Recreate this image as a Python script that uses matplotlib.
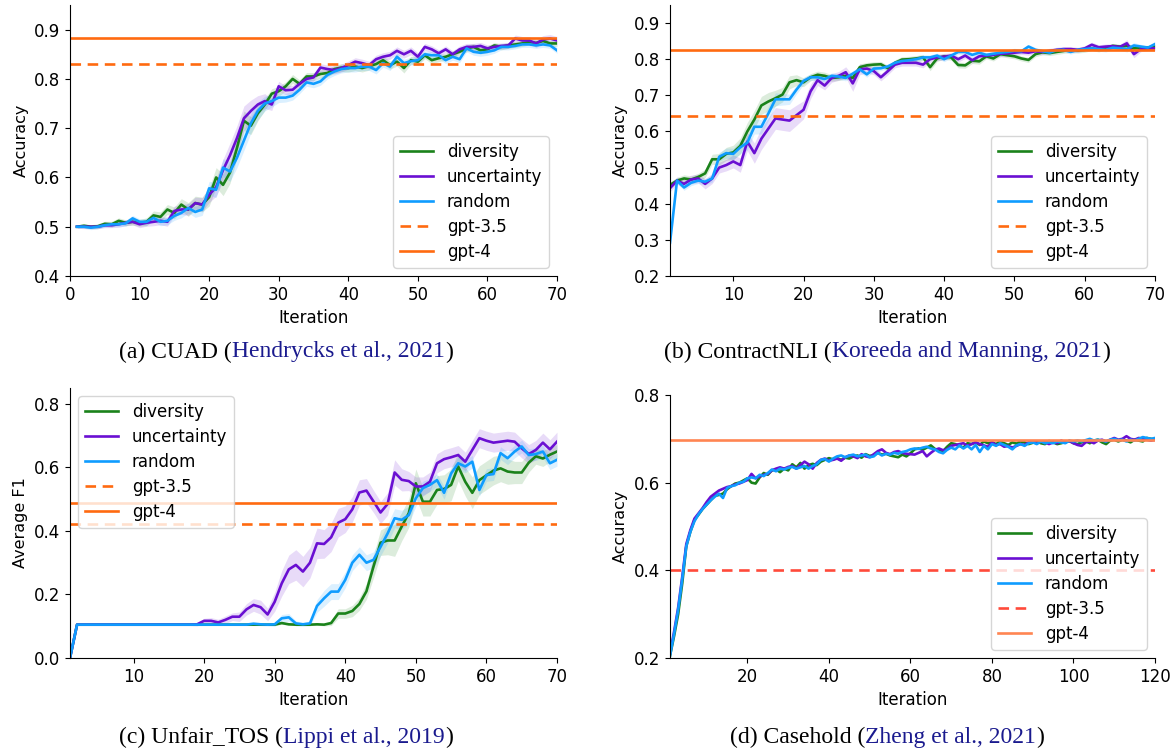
import numpy as np
import matplotlib
matplotlib.use("Agg")
import matplotlib.pyplot as plt

# colours
col_div = "#1a821a"
col_unc = "#6a0fd2"
col_rnd = "#0f9cff"
col_gpt = "#ff6a10"
col_gpt35_d = "#ff4a3a"
col_gpt4_d = "#ff8552"
col_cite = "#1a1a8e"

iters70 = np.arange(1, 71)
iters120 = np.arange(1, 121)

# (a) CUAD
a_div = [0.500, 0.502, 0.500, 0.501, 0.506, 0.505, 0.512, 0.508, 0.510, 0.508,
         0.510, 0.523, 0.520, 0.535, 0.528, 0.545, 0.535, 0.548, 0.545, 0.560,
         0.600, 0.585, 0.610, 0.660, 0.715, 0.705, 0.730, 0.748, 0.770, 0.775,
         0.785, 0.800, 0.790, 0.805, 0.805, 0.810, 0.812, 0.820, 0.823, 0.822,
         0.825, 0.822, 0.826, 0.830, 0.838, 0.828, 0.835, 0.822, 0.838, 0.835,
         0.848, 0.838, 0.842, 0.845, 0.850, 0.855, 0.862, 0.865, 0.858, 0.860,
         0.868, 0.865, 0.868, 0.870, 0.872, 0.875, 0.873, 0.877, 0.872, 0.872]
a_unc = [0.500, 0.500, 0.500, 0.500, 0.503, 0.503, 0.505, 0.508, 0.510, 0.505,
         0.508, 0.510, 0.512, 0.510, 0.532, 0.535, 0.535, 0.548, 0.545, 0.565,
         0.580, 0.615, 0.645, 0.680, 0.720, 0.735, 0.748, 0.755, 0.748, 0.785,
         0.777, 0.778, 0.790, 0.800, 0.803, 0.823, 0.820, 0.818, 0.822, 0.828,
         0.835, 0.832, 0.828, 0.840, 0.845, 0.848, 0.857, 0.850, 0.857, 0.845,
         0.865, 0.860, 0.852, 0.860, 0.850, 0.860, 0.865, 0.865, 0.867, 0.862,
         0.865, 0.867, 0.868, 0.882, 0.878, 0.878, 0.872, 0.880, 0.882, 0.878]
a_rnd = [0.500, 0.500, 0.498, 0.500, 0.503, 0.505, 0.505, 0.507, 0.517, 0.510,
         0.510, 0.518, 0.510, 0.512, 0.522, 0.528, 0.538, 0.530, 0.535, 0.578,
         0.575, 0.620, 0.612, 0.640, 0.675, 0.710, 0.735, 0.750, 0.755, 0.762,
         0.762, 0.766, 0.778, 0.793, 0.790, 0.795, 0.808, 0.815, 0.820, 0.822,
         0.822, 0.825, 0.825, 0.818, 0.832, 0.825, 0.845, 0.832, 0.836, 0.838,
         0.850, 0.848, 0.848, 0.838, 0.845, 0.840, 0.862, 0.855, 0.853, 0.855,
         0.858, 0.865, 0.865, 0.867, 0.870, 0.870, 0.868, 0.870, 0.868, 0.858]
a_div_sd = [0.003, 0.004, 0.004, 0.005, 0.005, 0.006, 0.006, 0.006, 0.007, 0.007,
            0.008, 0.009, 0.010, 0.010, 0.012, 0.012, 0.014, 0.014, 0.015, 0.018,
            0.020, 0.022, 0.022, 0.020, 0.020, 0.018, 0.015, 0.012, 0.010, 0.010,
            0.009, 0.009, 0.008, 0.008, 0.008, 0.008, 0.008, 0.008, 0.008, 0.008,
            0.008, 0.008, 0.008, 0.008, 0.008, 0.008, 0.009, 0.010, 0.008, 0.008,
            0.007, 0.007, 0.007, 0.007, 0.007, 0.007, 0.007, 0.007, 0.007, 0.007,
            0.006, 0.006, 0.006, 0.006, 0.006, 0.006, 0.006, 0.006, 0.006, 0.006]
a_unc_sd = [0.003, 0.004, 0.004, 0.004, 0.005, 0.005, 0.006, 0.006, 0.006, 0.007,
            0.007, 0.008, 0.008, 0.009, 0.010, 0.010, 0.012, 0.012, 0.014, 0.016,
            0.018, 0.022, 0.025, 0.025, 0.025, 0.022, 0.018, 0.015, 0.012, 0.010,
            0.009, 0.009, 0.008, 0.008, 0.008, 0.008, 0.008, 0.008, 0.008, 0.008,
            0.008, 0.008, 0.008, 0.008, 0.008, 0.008, 0.008, 0.008, 0.008, 0.008,
            0.007, 0.007, 0.007, 0.007, 0.007, 0.007, 0.007, 0.007, 0.007, 0.007,
            0.006, 0.006, 0.006, 0.007, 0.008, 0.008, 0.008, 0.008, 0.008, 0.008]
a_rnd_sd = [0.003, 0.003, 0.004, 0.004, 0.004, 0.005, 0.005, 0.006, 0.006, 0.006,
            0.007, 0.007, 0.008, 0.008, 0.009, 0.010, 0.010, 0.011, 0.012, 0.014,
            0.016, 0.018, 0.020, 0.020, 0.020, 0.020, 0.018, 0.015, 0.012, 0.010,
            0.009, 0.009, 0.008, 0.008, 0.008, 0.008, 0.008, 0.008, 0.008, 0.008,
            0.008, 0.008, 0.008, 0.008, 0.008, 0.008, 0.008, 0.008, 0.008, 0.008,
            0.007, 0.007, 0.007, 0.007, 0.007, 0.007, 0.007, 0.007, 0.007, 0.007,
            0.006, 0.006, 0.006, 0.006, 0.006, 0.006, 0.006, 0.006, 0.006, 0.006]
a_gpt35 = 0.830
a_gpt4 = 0.884

# (b) ContractNLI
b_div = [0.452, 0.464, 0.470, 0.467, 0.474, 0.484, 0.523, 0.523, 0.538, 0.542,
         0.560, 0.600, 0.633, 0.672, 0.683, 0.692, 0.702, 0.736, 0.742, 0.736,
         0.750, 0.757, 0.754, 0.748, 0.750, 0.754, 0.748, 0.778, 0.783, 0.785,
         0.786, 0.775, 0.790, 0.799, 0.800, 0.802, 0.805, 0.778, 0.802, 0.808,
         0.805, 0.784, 0.783, 0.796, 0.794, 0.808, 0.802, 0.814, 0.811, 0.808,
         0.802, 0.798, 0.814, 0.819, 0.817, 0.820, 0.823, 0.826, 0.824, 0.826,
         0.830, 0.826, 0.832, 0.837, 0.835, 0.837, 0.830, 0.832, 0.832, 0.835]
b_unc = [0.443, 0.464, 0.455, 0.467, 0.470, 0.455, 0.470, 0.500, 0.507, 0.517,
         0.507, 0.572, 0.540, 0.580, 0.608, 0.636, 0.633, 0.630, 0.645, 0.660,
         0.711, 0.742, 0.727, 0.748, 0.754, 0.764, 0.733, 0.772, 0.774, 0.767,
         0.750, 0.767, 0.785, 0.790, 0.790, 0.790, 0.785, 0.800, 0.805, 0.807,
         0.810, 0.800, 0.810, 0.797, 0.808, 0.810, 0.812, 0.815, 0.816, 0.818,
         0.820, 0.818, 0.822, 0.820, 0.823, 0.826, 0.828, 0.828, 0.826, 0.830,
         0.840, 0.833, 0.835, 0.836, 0.834, 0.844, 0.814, 0.828, 0.830, 0.830]
b_rnd = [0.292, 0.464, 0.445, 0.458, 0.464, 0.461, 0.470, 0.530, 0.540, 0.538,
         0.556, 0.569, 0.613, 0.613, 0.650, 0.689, 0.689, 0.689, 0.716, 0.740,
         0.750, 0.750, 0.745, 0.754, 0.752, 0.748, 0.760, 0.772, 0.758, 0.774,
         0.775, 0.780, 0.790, 0.795, 0.797, 0.800, 0.805, 0.805, 0.810, 0.800,
         0.810, 0.820, 0.820, 0.812, 0.818, 0.812, 0.815, 0.818, 0.820, 0.823,
         0.822, 0.835, 0.826, 0.822, 0.818, 0.825, 0.826, 0.820, 0.826, 0.828,
         0.830, 0.828, 0.826, 0.832, 0.830, 0.828, 0.838, 0.835, 0.832, 0.842]
b_div_sd = [0.008, 0.009, 0.010, 0.010, 0.010, 0.012, 0.014, 0.016, 0.018, 0.020,
            0.022, 0.025, 0.025, 0.025, 0.025, 0.022, 0.020, 0.018, 0.015, 0.012,
            0.010, 0.010, 0.010, 0.009, 0.009, 0.009, 0.009, 0.009, 0.008, 0.008,
            0.008, 0.008, 0.008, 0.008, 0.008, 0.008, 0.008, 0.010, 0.008, 0.008,
            0.008, 0.008, 0.008, 0.008, 0.008, 0.007, 0.007, 0.007, 0.007, 0.007,
            0.007, 0.007, 0.007, 0.007, 0.007, 0.007, 0.007, 0.007, 0.007, 0.007,
            0.006, 0.006, 0.006, 0.006, 0.006, 0.006, 0.006, 0.006, 0.006, 0.006]
b_unc_sd = [0.010, 0.010, 0.012, 0.012, 0.012, 0.014, 0.014, 0.015, 0.016, 0.018,
            0.020, 0.025, 0.028, 0.030, 0.030, 0.030, 0.030, 0.030, 0.028, 0.025,
            0.020, 0.015, 0.012, 0.012, 0.012, 0.015, 0.022, 0.015, 0.012, 0.010,
            0.010, 0.010, 0.009, 0.009, 0.009, 0.009, 0.009, 0.009, 0.009, 0.009,
            0.008, 0.008, 0.008, 0.008, 0.008, 0.008, 0.008, 0.008, 0.008, 0.008,
            0.007, 0.007, 0.007, 0.007, 0.007, 0.007, 0.007, 0.007, 0.007, 0.007,
            0.007, 0.007, 0.007, 0.007, 0.007, 0.010, 0.010, 0.007, 0.007, 0.007]
b_rnd_sd = [0.008, 0.008, 0.008, 0.008, 0.008, 0.009, 0.010, 0.012, 0.014, 0.016,
            0.018, 0.020, 0.020, 0.020, 0.020, 0.018, 0.016, 0.014, 0.012, 0.010,
            0.009, 0.009, 0.008, 0.008, 0.008, 0.008, 0.008, 0.008, 0.008, 0.008,
            0.007, 0.007, 0.007, 0.007, 0.007, 0.007, 0.007, 0.007, 0.007, 0.007,
            0.007, 0.007, 0.007, 0.007, 0.007, 0.007, 0.007, 0.007, 0.007, 0.007,
            0.006, 0.006, 0.006, 0.006, 0.006, 0.006, 0.006, 0.006, 0.006, 0.006,
            0.006, 0.006, 0.006, 0.006, 0.006, 0.008, 0.008, 0.006, 0.006, 0.006]
b_gpt35 = 0.642
b_gpt4 = 0.825

# (c) Unfair_TOS
c_div = [0.000, 0.105, 0.105, 0.105, 0.105, 0.105, 0.105, 0.105, 0.105, 0.105,
         0.105, 0.105, 0.105, 0.105, 0.105, 0.105, 0.105, 0.105, 0.105, 0.105,
         0.105, 0.105, 0.105, 0.105, 0.105, 0.105, 0.105, 0.105, 0.105, 0.105,
         0.110, 0.106, 0.105, 0.105, 0.105, 0.106, 0.105, 0.110, 0.140, 0.140,
         0.148, 0.170, 0.210, 0.288, 0.363, 0.370, 0.370, 0.414, 0.456, 0.550,
         0.492, 0.492, 0.529, 0.532, 0.545, 0.603, 0.555, 0.520, 0.560, 0.575,
         0.590, 0.597, 0.587, 0.584, 0.584, 0.615, 0.635, 0.628, 0.640, 0.650]
c_unc = [0.000, 0.105, 0.105, 0.105, 0.105, 0.105, 0.105, 0.105, 0.105, 0.105,
         0.105, 0.105, 0.105, 0.105, 0.105, 0.105, 0.105, 0.105, 0.106, 0.117,
         0.117, 0.112, 0.120, 0.130, 0.130, 0.153, 0.167, 0.160, 0.137, 0.177,
         0.235, 0.279, 0.293, 0.272, 0.300, 0.361, 0.359, 0.380, 0.426, 0.437,
         0.468, 0.521, 0.527, 0.493, 0.458, 0.485, 0.584, 0.561, 0.557, 0.540,
         0.540, 0.555, 0.613, 0.626, 0.632, 0.639, 0.618, 0.655, 0.692, 0.684,
         0.678, 0.681, 0.684, 0.681, 0.660, 0.642, 0.655, 0.678, 0.657, 0.681]
c_rnd = [0.000, 0.105, 0.105, 0.105, 0.105, 0.105, 0.105, 0.105, 0.105, 0.105,
         0.105, 0.105, 0.105, 0.105, 0.105, 0.105, 0.105, 0.105, 0.105, 0.105,
         0.105, 0.105, 0.105, 0.105, 0.105, 0.105, 0.108, 0.106, 0.105, 0.106,
         0.125, 0.128, 0.109, 0.106, 0.109, 0.164, 0.188, 0.209, 0.209, 0.246,
         0.300, 0.325, 0.300, 0.309, 0.350, 0.392, 0.440, 0.435, 0.450, 0.503,
         0.535, 0.545, 0.560, 0.520, 0.581, 0.613, 0.603, 0.618, 0.529, 0.576,
         0.579, 0.645, 0.629, 0.650, 0.666, 0.639, 0.642, 0.650, 0.613, 0.624]
c_div_sd = [0.001, 0.003, 0.003, 0.003, 0.003, 0.003, 0.003, 0.003, 0.003, 0.003,
            0.003, 0.003, 0.003, 0.003, 0.003, 0.003, 0.003, 0.003, 0.003, 0.003,
            0.003, 0.003, 0.003, 0.003, 0.003, 0.003, 0.003, 0.003, 0.003, 0.003,
            0.004, 0.003, 0.003, 0.003, 0.003, 0.003, 0.004, 0.008, 0.015, 0.015,
            0.018, 0.020, 0.025, 0.035, 0.040, 0.045, 0.050, 0.045, 0.045, 0.045,
            0.045, 0.045, 0.045, 0.045, 0.050, 0.045, 0.045, 0.050, 0.045, 0.045,
            0.045, 0.042, 0.040, 0.035, 0.035, 0.030, 0.025, 0.025, 0.022, 0.022]
c_unc_sd = [0.001, 0.003, 0.003, 0.003, 0.003, 0.003, 0.003, 0.003, 0.003, 0.003,
            0.003, 0.003, 0.003, 0.003, 0.003, 0.003, 0.003, 0.003, 0.005, 0.008,
            0.010, 0.010, 0.012, 0.012, 0.015, 0.018, 0.020, 0.022, 0.020, 0.030,
            0.040, 0.045, 0.048, 0.048, 0.048, 0.048, 0.045, 0.045, 0.045, 0.042,
            0.040, 0.040, 0.038, 0.035, 0.035, 0.035, 0.040, 0.035, 0.030, 0.030,
            0.030, 0.030, 0.030, 0.030, 0.030, 0.030, 0.030, 0.030, 0.030, 0.030,
            0.030, 0.030, 0.030, 0.030, 0.030, 0.030, 0.030, 0.030, 0.030, 0.030]
c_rnd_sd = [0.001, 0.003, 0.003, 0.003, 0.003, 0.003, 0.003, 0.003, 0.003, 0.003,
            0.003, 0.003, 0.003, 0.003, 0.003, 0.003, 0.003, 0.003, 0.003, 0.003,
            0.003, 0.003, 0.003, 0.003, 0.003, 0.003, 0.004, 0.004, 0.004, 0.006,
            0.012, 0.012, 0.008, 0.006, 0.008, 0.020, 0.025, 0.025, 0.025, 0.025,
            0.025, 0.025, 0.025, 0.025, 0.028, 0.030, 0.030, 0.030, 0.028, 0.025,
            0.022, 0.020, 0.020, 0.020, 0.020, 0.020, 0.020, 0.020, 0.020, 0.020,
            0.020, 0.020, 0.020, 0.020, 0.020, 0.020, 0.020, 0.020, 0.020, 0.020]
c_gpt35 = 0.421
c_gpt4 = 0.487

# (d) Casehold
d_div = [0.205, 0.250, 0.300, 0.370, 0.455, 0.488, 0.515, 0.527, 0.540, 0.550,
         0.560, 0.570, 0.572, 0.575, 0.585, 0.592, 0.598, 0.600, 0.605, 0.610,
         0.600, 0.598, 0.612, 0.622, 0.618, 0.628, 0.630, 0.624, 0.632, 0.628,
         0.642, 0.635, 0.645, 0.632, 0.640, 0.643, 0.640, 0.648, 0.652, 0.656,
         0.653, 0.656, 0.652, 0.657, 0.655, 0.660, 0.662, 0.657, 0.665, 0.661,
         0.663, 0.668, 0.664, 0.666, 0.662, 0.660, 0.658, 0.664, 0.660, 0.667,
         0.676, 0.678, 0.675, 0.680, 0.685, 0.677, 0.674, 0.672, 0.682, 0.690,
         0.688, 0.684, 0.680, 0.690, 0.688, 0.692, 0.686, 0.694, 0.690, 0.692,
         0.688, 0.694, 0.690, 0.686, 0.692, 0.689, 0.694, 0.692, 0.688, 0.691,
         0.694, 0.690, 0.688, 0.695, 0.692, 0.688, 0.690, 0.693, 0.695, 0.690,
         0.688, 0.692, 0.695, 0.690, 0.696, 0.698, 0.692, 0.688, 0.696, 0.698,
         0.694, 0.698, 0.696, 0.692, 0.698, 0.696, 0.694, 0.702, 0.700, 0.698]
d_unc = [0.210, 0.260, 0.315, 0.385, 0.460, 0.492, 0.518, 0.530, 0.542, 0.556,
         0.568, 0.575, 0.582, 0.586, 0.590, 0.592, 0.596, 0.598, 0.602, 0.606,
         0.620, 0.610, 0.614, 0.618, 0.620, 0.628, 0.632, 0.635, 0.632, 0.636,
         0.638, 0.632, 0.640, 0.648, 0.642, 0.632, 0.645, 0.652, 0.655, 0.650,
         0.652, 0.655, 0.650, 0.658, 0.662, 0.660, 0.656, 0.665, 0.660, 0.658,
         0.665, 0.672, 0.676, 0.668, 0.665, 0.670, 0.672, 0.668, 0.666, 0.665,
         0.664, 0.668, 0.672, 0.660, 0.668, 0.675, 0.678, 0.674, 0.676, 0.684,
         0.686, 0.688, 0.690, 0.684, 0.688, 0.692, 0.688, 0.685, 0.682, 0.692,
         0.686, 0.688, 0.682, 0.684, 0.680, 0.684, 0.688, 0.686, 0.692, 0.694,
         0.690, 0.694, 0.692, 0.688, 0.692, 0.690, 0.696, 0.692, 0.695, 0.690,
         0.686, 0.684, 0.692, 0.694, 0.690, 0.696, 0.698, 0.694, 0.698, 0.702,
         0.698, 0.700, 0.706, 0.700, 0.698, 0.702, 0.700, 0.698, 0.696, 0.698]
d_rnd = [0.205, 0.255, 0.310, 0.380, 0.455, 0.488, 0.512, 0.528, 0.540, 0.550,
         0.560, 0.568, 0.575, 0.565, 0.588, 0.592, 0.594, 0.600, 0.602, 0.610,
         0.612, 0.610, 0.618, 0.615, 0.622, 0.630, 0.626, 0.632, 0.630, 0.634,
         0.636, 0.632, 0.635, 0.638, 0.632, 0.638, 0.642, 0.652, 0.654, 0.648,
         0.655, 0.660, 0.662, 0.658, 0.662, 0.664, 0.660, 0.662, 0.664, 0.658,
         0.660, 0.668, 0.662, 0.666, 0.664, 0.668, 0.666, 0.670, 0.672, 0.676,
         0.678, 0.677, 0.680, 0.682, 0.678, 0.676, 0.670, 0.667, 0.675, 0.680,
         0.676, 0.685, 0.678, 0.684, 0.676, 0.686, 0.670, 0.684, 0.676, 0.688,
         0.684, 0.690, 0.686, 0.682, 0.676, 0.685, 0.688, 0.684, 0.690, 0.692,
         0.688, 0.694, 0.690, 0.692, 0.690, 0.694, 0.692, 0.690, 0.696, 0.694,
         0.696, 0.694, 0.697, 0.700, 0.696, 0.698, 0.696, 0.694, 0.698, 0.700,
         0.697, 0.698, 0.694, 0.698, 0.696, 0.700, 0.704, 0.702, 0.700, 0.702]
d_gpt35 = 0.400
d_gpt4 = 0.697

W, H = 1175, 749
fig = plt.figure(figsize=(W / 100, H / 100), dpi=100)

def px_axes(left, top, right, bottom):
    return fig.add_axes([left / W, 1 - bottom / H, (right - left) / W, (bottom - top) / H])

def draw(ax, x, series, sds, g35, g4, g35_col, g4_col):
    cols = [col_div, col_unc, col_rnd]
    names = ["diversity", "uncertainty", "random"]
    for s, sd, col, name in zip(series, sds, cols, names):
        s = np.array(s)
        if sd is not None:
            sd = np.array(sd)
            ax.fill_between(x, s - sd, s + sd, color=col, alpha=0.15, lw=0)
        ax.plot(x, s, color=col, lw=1.9, label=name)
    ax.axhline(g35, color=g35_col, lw=1.9, ls=(0, (4, 2.5)), label="gpt-3.5")
    ax.axhline(g4, color=g4_col, lw=1.9, label="gpt-4")
    for sp in ["top", "right"]:
        ax.spines[sp].set_visible(False)
    ax.tick_params(labelsize=12)
    ax.set_xlabel("Iteration", fontsize=12, labelpad=4)

def legend(ax, loc):
    ax.legend(loc=loc, fontsize=12, labelspacing=0.42)

# (a)
ax = px_axes(70, 5, 557, 276)
draw(ax, iters70, [a_div, a_unc, a_rnd], [a_div_sd, a_unc_sd, a_rnd_sd], a_gpt35, a_gpt4, col_gpt, col_gpt)
ax.set_xlim(0, 70)
ax.set_ylim(0.4, 0.95)
ax.set_xticks(range(0, 71, 10))
ax.set_yticks([0.4, 0.5, 0.6, 0.7, 0.8, 0.9])
ax.set_ylabel("Accuracy", fontsize=11.5)
legend(ax, "lower right")

# (b)
ax = px_axes(670, 5, 1155, 276)
draw(ax, iters70, [b_div, b_unc, b_rnd], [b_div_sd, b_unc_sd, b_rnd_sd], b_gpt35, b_gpt4, col_gpt, col_gpt)
ax.set_xlim(1, 70)
ax.set_ylim(0.2, 0.95)
ax.set_xticks(range(10, 71, 10))
ax.set_yticks([0.2, 0.3, 0.4, 0.5, 0.6, 0.7, 0.8, 0.9])
ax.set_ylabel("Accuracy", fontsize=11.5)
legend(ax, "lower right")

# (c)
ax = px_axes(70, 388, 557, 658)
draw(ax, iters70, [c_div, c_unc, c_rnd], [c_div_sd, c_unc_sd, c_rnd_sd], c_gpt35, c_gpt4, col_gpt, col_gpt)
ax.set_xlim(1, 70)
ax.set_ylim(0.0, 0.85)
ax.set_xticks(range(10, 71, 10))
ax.set_yticks([0.0, 0.2, 0.4, 0.6, 0.8])
ax.set_ylabel("Average F1", fontsize=11.5)
legend(ax, "upper left")

# (d)
ax = px_axes(670, 395, 1155, 658)
draw(ax, iters120, [d_div, d_unc, d_rnd], [None, None, None], d_gpt35, d_gpt4, col_gpt35_d, col_gpt4_d)
ax.set_xlim(1, 120)
ax.set_ylim(0.2, 0.8)
ax.set_xticks(range(20, 121, 20))
ax.set_yticks([0.2, 0.4, 0.6, 0.8])
ax.set_ylabel("Accuracy", fontsize=11.5)
legend(ax, "lower right")

# captions with coloured citations
renderer = fig.canvas.get_renderer()

def caption(cx, cy, parts):
    texts = []
    for s, col in parts:
        t = fig.text(0, 1 - cy / H, s, color=col, fontsize=17,
                     family="Liberation Serif", va="center", ha="left")
        texts.append(t)
    widths = [t.get_window_extent(renderer).width for t in texts]
    x = cx - sum(widths) / 2
    for t, w in zip(texts, widths):
        t.set_x(x / W)
        x += w

caption(286, 352, [("(a) CUAD (", "black"), ("Hendrycks et al., 2021", col_cite), (")", "black")])
caption(887, 352, [("(b) ContractNLI (", "black"), ("Koreeda and Manning, 2021", col_cite), (")", "black")])
caption(286, 737, [("(c) Unfair_TOS (", "black"), ("Lippi et al., 2019", col_cite), (")", "black")])
caption(887, 737, [("(d) Casehold (", "black"), ("Zheng et al., 2021", col_cite), (")", "black")])

fig.savefig("out.png", dpi=100)
